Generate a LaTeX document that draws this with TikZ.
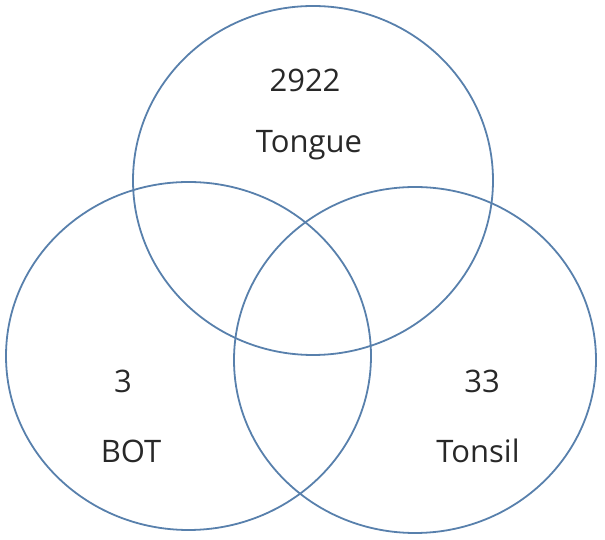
\documentclass[tikz,border=0pt]{standalone}
\usepackage{fontspec}
\setmainfont{Open Sans}
\definecolor{ringblue}{RGB}{88,128,172}
\definecolor{labelgray}{RGB}{40,40,40}
\begin{document}
\begin{tikzpicture}[x=1pt,y=1pt,
  ring/.style={draw=ringblue,line width=1.8pt},
  lbl/.style={anchor=base,text=labelgray,inner sep=0pt,font=\fontsize{31}{36}\selectfont}]
\useasboundingbox (0,0) rectangle (605,540);
% three overlapping sets
\draw[ring] (313,359.5) ellipse [x radius=180,y radius=174.5];
\draw[ring] (188.5,184) ellipse [x radius=182.5,y radius=174];
\draw[ring] (415,180) ellipse [x radius=181,y radius=173];
% counts and set names
\node[lbl] (ncount) at (305,448) {2922};
\node[lbl] (nname) at (309,387) {Tongue};
\node[lbl] (bcount) at (123,147) {3};
\node[lbl] (bname) at (131,77) {BOT};
\node[lbl] (tcount) at (482,147) {33};
\node[lbl] (tname) at (478,77) {Tonsil};
\end{tikzpicture}
\end{document}
